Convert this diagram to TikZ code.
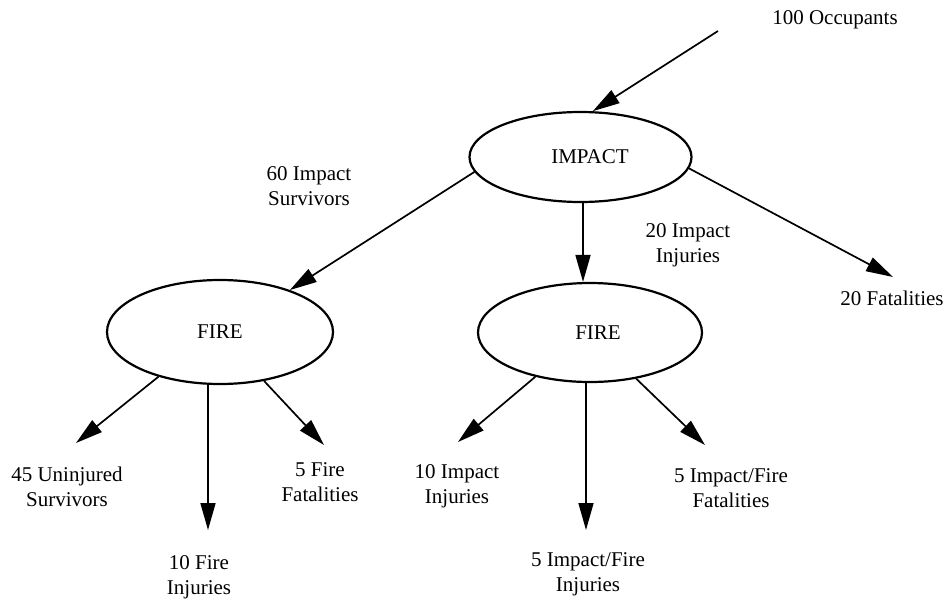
\documentclass[tikz,border=0pt]{standalone}
\usepackage{fontspec}
\setmainfont{Liberation Serif}
\usetikzlibrary{shapes.geometric,arrows.meta}
\begin{document}
\begin{tikzpicture}[x=1pt,y=-1pt,
  font=\fontsize{21}{25}\selectfont,
  evt/.style={draw,ellipse,line width=2.2pt,inner sep=0pt},
  lbl/.style={align=center,inner sep=0pt},
  arr/.style={line width=1.7pt,-{Triangle[length=27pt,width=15pt]}}]
\useasboundingbox (0,0) rectangle (948,600);
% events
\node[evt,minimum width=222pt,minimum height=90pt] (imp) at (580.5,157) {\hspace*{19pt}IMPACT};
\node[evt,minimum width=226pt,minimum height=104pt] (f1) at (220,332) {FIRE};
\node[evt,minimum width=224pt,minimum height=99pt] (f2) at (590,332.5) {\hspace*{16pt}FIRE};
% labels
\node[lbl,anchor=base] (occ) at (835,24) {100 Occupants};
\node[lbl] (sur) at (309,186) {60 Impact\\Survivors};
\node[lbl] (inj) at (688,245.7) {20 Impact\\Injuries};
\node[lbl,anchor=base] (fat) at (892,305) {20 Fatalities};
\node[lbl] (l45) at (67,487) {45 Uninjured\\Survivors};
\node[lbl] (l10f) at (199,577.2) {10 Fire\\Injuries};
\node[lbl] (l5ff) at (320,482.4) {5 Fire\\Fatalities};
\node[lbl] (l10i) at (457,486.2) {10 Impact\\Injuries};
\node[lbl] (l5ifi) at (588,574.7) {5 Impact/Fire\\Injuries};
\node[lbl] (l5iff) at (731,487.9) {5 Impact/Fire\\Fatalities};
% connector ends
\coordinate (src) at (718,31);
\coordinate (tfat) at (893,277);
\coordinate (t45) at (76,443);
\coordinate (t10f) at (208,530);
\coordinate (t5ff) at (324,445);
\coordinate (t10i) at (458,442);
\coordinate (t5ifi) at (586,530);
\coordinate (t5iff) at (705,445);
\coordinate (vimp) at (583,0);
% connectors
\draw[arr] (src) -- (imp.75.7);
\draw[arr] (imp.188.4) -- (f1.31.1);
\draw[arr] (imp.south -| vimp) -- (f2.north -| vimp);
\draw[arr] (imp.-6.7) -- (tfat);
\draw[arr] (f1.216) -- (t45);
\draw[arr] (f1.south -| t10f) -- (t10f);
\draw[arr] (f1.-48.7) -- (t5ff);
\draw[arr] (f2.219.3) -- (t10i);
\draw[arr] (f2.south -| t5ifi) -- (t5ifi);
\draw[arr] (f2.-45.6) -- (t5iff);
\end{tikzpicture}
\end{document}
